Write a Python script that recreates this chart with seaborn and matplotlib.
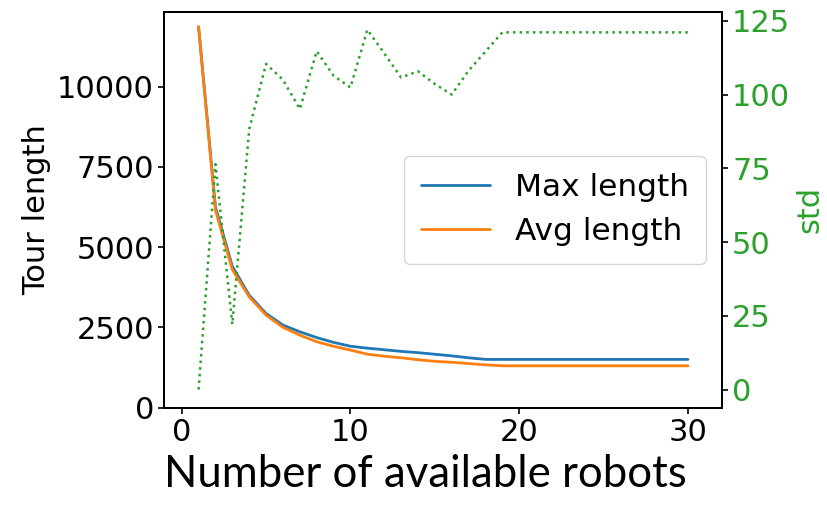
import numpy as np
import pandas as pd
import matplotlib
matplotlib.use("Agg")
import matplotlib.pyplot as plt
import seaborn as sns

robots = list(range(1, 31))

max_length = [11870, 6250, 4400, 3500, 2930, 2570, 2360, 2180, 2030, 1910,
              1850, 1800, 1750, 1710, 1660, 1610, 1550, 1500, 1500, 1500,
              1500, 1500, 1500, 1500, 1500, 1500, 1500, 1500, 1500, 1500]

avg_length = [11870, 6150, 4300, 3450, 2880, 2500, 2255, 2050, 1910, 1790,
              1662, 1600, 1550, 1490, 1440, 1410, 1370, 1330, 1300, 1300,
              1300, 1300, 1300, 1300, 1300, 1300, 1300, 1300, 1300, 1300]

std = [0, 76.4, 22.1, 88.3, 110.4, 105.0, 95.1, 114.7, 106.4, 102.4,
       122.0, 114.0, 105.8, 107.9, 103.6, 100.0, 108.1, 114.6, 121.1, 121.1,
       121.1, 121.1, 121.1, 121.1, 121.1, 121.1, 121.1, 121.1, 121.1, 121.1]

sns.set_style("ticks")
plt.rcParams["font.family"] = ["DejaVu Sans"]
plt.rcParams["axes.linewidth"] = 1.4
for key in ["text.color", "axes.labelcolor", "xtick.color", "ytick.color", "axes.edgecolor"]:
    plt.rcParams[key] = "black"

GREEN = "#2ca02c"

df = pd.DataFrame({
    "robots": robots * 2,
    "length": max_length + avg_length,
    "series": ["Max length"] * len(robots) + ["Avg length"] * len(robots),
})

fig = plt.figure(figsize=(8.27, 5.09), dpi=100)
ax = fig.add_axes([0.1987, 0.1994, 0.674, 0.7776])

# tour lengths on the left axis
sns.lineplot(data=df, x="robots", y="length", hue="series",
             palette=["#1f77b4", "#ff7f0e"], linewidth=2, ax=ax)

# std on the right axis
ax2 = ax.twinx()
sns.lineplot(x=robots, y=std, color=GREEN, linestyle=":", linewidth=1.8, ax=ax2)

ax.set_xlim(-1.03, 32.0)
ax.set_ylim(0, 12340)
ax2.set_ylim(-6.1, 128.1)
ax.set_xticks([0, 10, 20, 30])
ax.set_yticks(range(0, 10001, 2500))
ax2.set_yticks(range(0, 126, 25))

ax.tick_params(labelsize=22, length=4, width=1.2)
ax2.tick_params(axis="y", labelsize=22, labelcolor=GREEN, length=4, width=1.2)

ax.set_xlabel("")
ax.set_ylabel("Tour length", fontsize=22)
ax2.set_ylabel("std", fontsize=22, color=GREEN)

handles, labels = ax.get_legend_handles_labels()
ax.legend(handles=handles, labels=labels, loc="center right", fontsize=22.5,
          borderpad=0.55, handlelength=2.2, handletextpad=0.8)

fig.text(0.5145, 0.067, "Number of available robots", ha="center", va="center",
         fontsize=31.5, family=["Lato", "DejaVu Sans"])

plt.savefig("out.png", dpi=100)
